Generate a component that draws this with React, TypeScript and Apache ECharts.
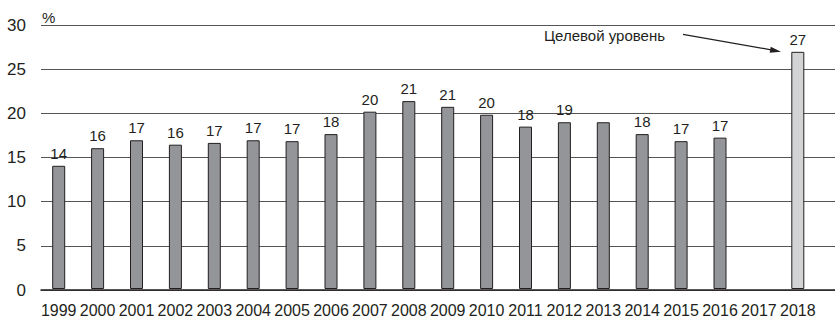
import React, { useEffect, useRef } from "react";
import * as echarts from "echarts";

const years = ["1999","2000","2001","2002","2003","2004","2005","2006","2007","2008","2009","2010","2011","2012","2013","2014","2015","2016","2017","2018"];
const values: (number | null)[] = [14.0,16.0,16.9,16.4,16.6,16.9,16.8,17.6,20.15,21.35,20.7,19.8,18.45,18.95,18.95,17.6,16.8,17.2,null,26.95];
const shownLabels: (string | null)[] = ["14","16","17","16","17","17","17","18","20","21","21","20","18","19",null,"18","17","17",null,"27"];
const targetYear = "2018";
const yTicks = { min: 0, max: 30, interval: 5 };
const unitLabel = "%";
const noteText = "Целевой уровень";

const FONT = "Liberation Sans";
const TXT = "#231f20";

export default function App() {
  const ref = useRef<HTMLDivElement>(null);
  useEffect(() => {
    if (!ref.current) return;
    const chart = echarts.init(ref.current, null, { renderer: "svg" });
    const data = values.map((v, i) => {
      if (v === null) return { value: null };
      const isTarget = years[i] === targetYear;
      return {
        value: v,
        itemStyle: { color: isTarget ? "#d1d3d4" : "#939598" },
        label: shownLabels[i] ? { show: true, formatter: shownLabels[i] as string } : { show: false },
      };
    });
    chart.setOption({
      animation: false,
      textStyle: { fontFamily: FONT },
      grid: [
        { left: 41, right: 0, top: 25, height: 265 },
        { left: 39.25, width: 778, top: 25, height: 265 },
      ],
      xAxis: [
        {
          gridIndex: 0, type: "value", min: 0, max: 1,
          axisLine: { show: true, lineStyle: { color: "#231f20", width: 1.5 } },
          axisTick: { show: false }, axisLabel: { show: false }, splitLine: { show: false },
        },
        {
          gridIndex: 1, type: "category", data: years,
          axisLine: { show: false }, axisTick: { show: false },
          axisLabel: { color: TXT, fontSize: 16, fontFamily: FONT, margin: 13, interval: 0 },
        },
      ],
      yAxis: [
        {
          gridIndex: 0, type: "value", ...yTicks,
          axisLine: { show: false }, axisTick: { show: false },
          axisLabel: { color: TXT, fontSize: 17, fontFamily: FONT, margin: 15 },
          splitLine: { lineStyle: { color: "#555", width: 1 } },
        },
        {
          gridIndex: 1, type: "value", ...yTicks,
          show: false, splitLine: { show: false },
        },
      ],
      series: [
        {
          type: "bar", xAxisIndex: 1, yAxisIndex: 1, data, barWidth: 13,
          itemStyle: { borderColor: "#231f20", borderWidth: 1 },
          label: { position: "top", distance: 5, color: TXT, fontSize: 15, fontFamily: FONT },
          z: 3,
        },
      ],
      graphic: [
        { type: "text", x: 42, y: 17, style: { text: unitLabel, fontSize: 15, fontFamily: FONT, fill: TXT, verticalAlign: "middle" } },
        { type: "text", x: 544, y: 35, style: { text: noteText, fontSize: 15, fontFamily: FONT, fill: TXT, verticalAlign: "middle" } },
        { type: "line", shape: { x1: 683, y1: 34.3, x2: 771, y2: 49.8 }, style: { stroke: TXT, lineWidth: 1.2 } },
        { type: "polygon", shape: { points: [[781, 51.7], [769.7, 52.7], [770.7, 46.8]] }, style: { fill: TXT } },
      ],
    });
    return () => chart.dispose();
  }, []);
  return <div ref={ref} style={{ position: "fixed", left: 0, top: 0, width: 835, height: 318, background: "#fff" }} />;
}
